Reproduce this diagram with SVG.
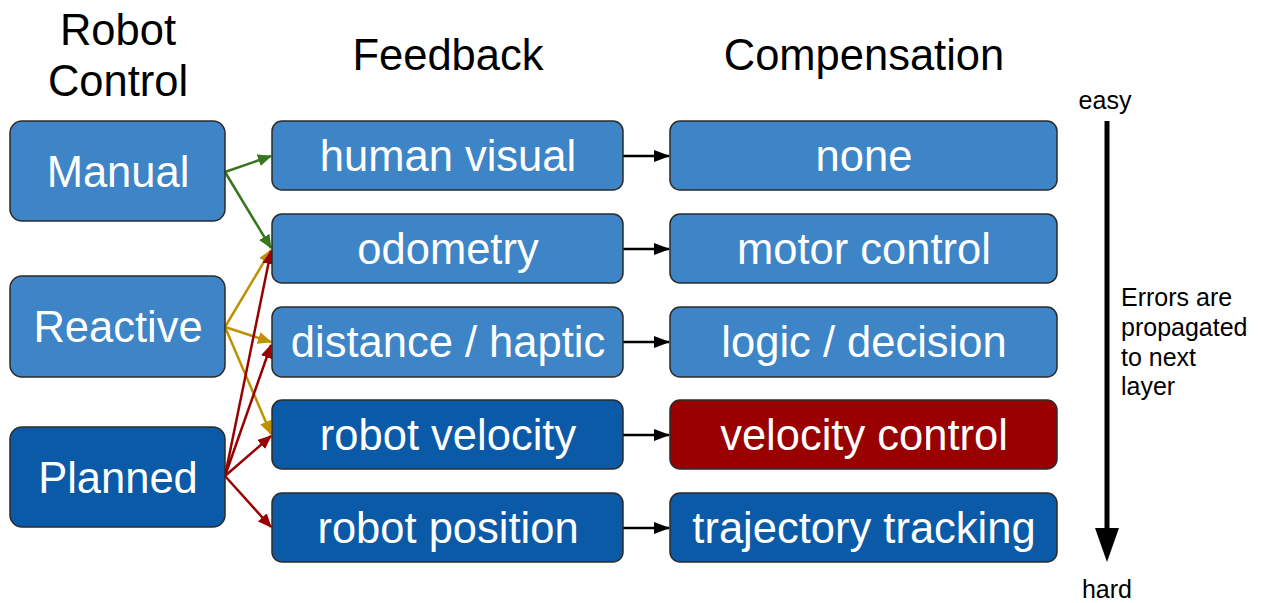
<svg xmlns="http://www.w3.org/2000/svg" width="1261" height="603" viewBox="0 0 1261 603">
  <style>
    .box { stroke: #2b2b2b; stroke-width: 1.5; }
    .lb { fill: #3d85c6; }
    .db { fill: #0b5aa8; }
    .rd { fill: #990000; }
    .lbl { font-family: "Liberation Sans", Arial, sans-serif; font-size: 43.5px; fill: #ffffff; text-anchor: middle; }
    .hdr { font-family: "Liberation Sans", Arial, sans-serif; font-size: 43.5px; fill: #000000; text-anchor: middle; }
    .note { font-family: "Liberation Sans", Arial, sans-serif; font-size: 25px; fill: #000000; }
    .c { fill: none; stroke-width: 2.5; }
  </style>
  <defs>
    <marker id="mg" markerWidth="14" markerHeight="12" refX="13" refY="6" orient="auto" markerUnits="userSpaceOnUse" viewBox="0 0 14 12"><path d="M0,0 L14,6 L0,12 z" fill="#38761d"/></marker>
    <marker id="my" markerWidth="14" markerHeight="12" refX="13" refY="6" orient="auto" markerUnits="userSpaceOnUse" viewBox="0 0 14 12"><path d="M0,0 L14,6 L0,12 z" fill="#bf9000"/></marker>
    <marker id="mr" markerWidth="14" markerHeight="12" refX="13" refY="6" orient="auto" markerUnits="userSpaceOnUse" viewBox="0 0 14 12"><path d="M0,0 L14,6 L0,12 z" fill="#990000"/></marker>
    <marker id="mk" markerWidth="16" markerHeight="12" refX="15" refY="6" orient="auto" markerUnits="userSpaceOnUse" viewBox="0 0 16 12"><path d="M0,0 L16,6 L0,12 z" fill="#000000"/></marker>
  </defs>

  <!-- column headers -->
  <g id="headers">
    <text class="hdr" x="118" y="45">Robot</text>
    <text class="hdr" x="118" y="96">Control</text>
    <text class="hdr" x="448" y="70">Feedback</text>
    <text class="hdr" x="864" y="70">Compensation</text>
  </g>

  <!-- connectors -->
  <g id="connectors">
    <line class="c" stroke="#38761d" x1="225" y1="172" x2="271" y2="156" marker-end="url(#mg)"/>
    <line class="c" stroke="#38761d" x1="225" y1="172" x2="271" y2="248" marker-end="url(#mg)"/>
    <line class="c" stroke="#bf9000" x1="225" y1="327" x2="271" y2="250" marker-end="url(#my)"/>
    <line class="c" stroke="#bf9000" x1="225" y1="327" x2="271" y2="342" marker-end="url(#my)"/>
    <line class="c" stroke="#bf9000" x1="225" y1="327" x2="271" y2="434" marker-end="url(#my)"/>
    <line class="c" stroke="#990000" x1="225" y1="476" x2="271" y2="251" marker-end="url(#mr)"/>
    <line class="c" stroke="#990000" x1="225" y1="476" x2="271" y2="345" marker-end="url(#mr)"/>
    <line class="c" stroke="#990000" x1="225" y1="476" x2="271" y2="436" marker-end="url(#mr)"/>
    <line class="c" stroke="#990000" x1="225" y1="476" x2="271" y2="527" marker-end="url(#mr)"/>
    <line class="c" stroke="#000000" x1="623" y1="156" x2="669" y2="156" marker-end="url(#mk)"/>
    <line class="c" stroke="#000000" x1="623" y1="249" x2="669" y2="249" marker-end="url(#mk)"/>
    <line class="c" stroke="#000000" x1="623" y1="342" x2="669" y2="342" marker-end="url(#mk)"/>
    <line class="c" stroke="#000000" x1="623" y1="435" x2="669" y2="435" marker-end="url(#mk)"/>
    <line class="c" stroke="#000000" x1="623" y1="528" x2="669" y2="528" marker-end="url(#mk)"/>
  </g>

  <!-- control types -->
  <g id="manual"><rect class="box lb" x="10" y="121" width="215" height="100" rx="12"/><text class="lbl" x="118" y="187">Manual</text></g>
  <g id="reactive"><rect class="box lb" x="10" y="276" width="215" height="101" rx="12"/><text class="lbl" x="118" y="342">Reactive</text></g>
  <g id="planned"><rect class="box db" x="10" y="427" width="215" height="100" rx="12"/><text class="lbl" x="118" y="493">Planned</text></g>

  <!-- feedback sources -->
  <g id="fb-visual"><rect class="box lb" x="272" y="121" width="351" height="69" rx="10"/><text class="lbl" x="448" y="171">human visual</text></g>
  <g id="fb-odometry"><rect class="box lb" x="272" y="214" width="351" height="69" rx="10"/><text class="lbl" x="448" y="264">odometry</text></g>
  <g id="fb-distance"><rect class="box lb" x="272" y="307" width="351" height="70" rx="10"/><text class="lbl" x="448" y="357">distance / haptic</text></g>
  <g id="fb-velocity"><rect class="box db" x="272" y="400" width="351" height="69" rx="10"/><text class="lbl" x="448" y="450">robot velocity</text></g>
  <g id="fb-position"><rect class="box db" x="272" y="493" width="351" height="69" rx="10"/><text class="lbl" x="448" y="543">robot position</text></g>

  <!-- compensation -->
  <g id="cp-none"><rect class="box lb" x="670" y="121" width="387" height="69" rx="10"/><text class="lbl" x="864" y="171">none</text></g>
  <g id="cp-motor"><rect class="box lb" x="670" y="214" width="387" height="69" rx="10"/><text class="lbl" x="864" y="264">motor control</text></g>
  <g id="cp-logic"><rect class="box lb" x="670" y="307" width="387" height="70" rx="10"/><text class="lbl" x="864" y="357">logic / decision</text></g>
  <g id="cp-velocity"><rect class="box rd" x="670" y="400" width="387" height="69" rx="10"/><text class="lbl" x="864" y="450">velocity control</text></g>
  <g id="cp-trajectory"><rect class="box db" x="670" y="493" width="387" height="69" rx="10"/><text class="lbl" x="864" y="543">trajectory tracking</text></g>

  <!-- difficulty scale -->
  <g id="scale">
    <text class="note" x="1105" y="109" text-anchor="middle">easy</text>
    <line x1="1107" y1="121" x2="1107" y2="532" stroke="#000" stroke-width="5"/>
    <path d="M1095,528 L1119,528 L1107,562 z" fill="#000"/>
    <text class="note" x="1107" y="598" text-anchor="middle">hard</text>
    <text class="note" x="1121" y="306">Errors are</text>
    <text class="note" x="1121" y="336">propagated</text>
    <text class="note" x="1121" y="366">to next</text>
    <text class="note" x="1121" y="395">layer</text>
  </g>
</svg>
